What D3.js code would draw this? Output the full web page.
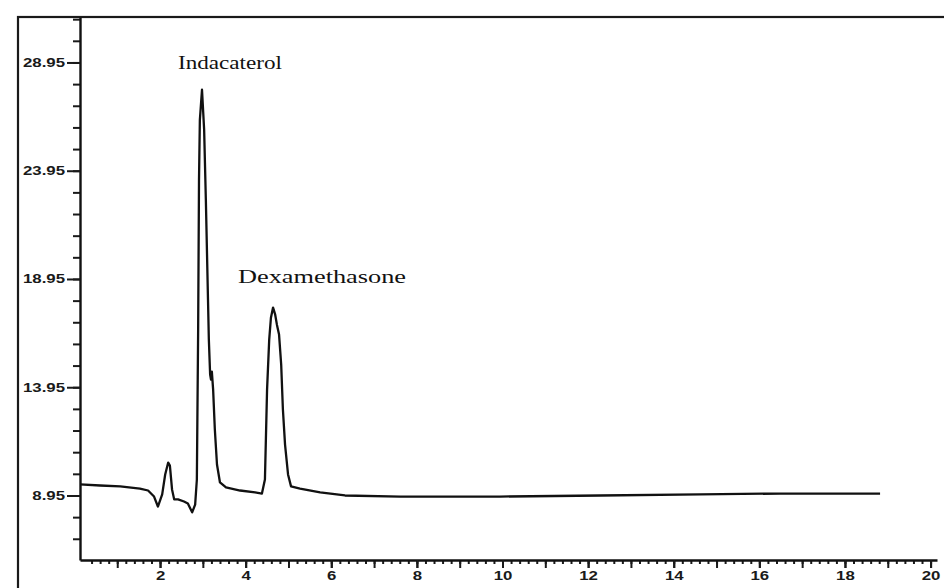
<!DOCTYPE html>
<html>
<head>
<meta charset="utf-8">
<script src="https://cdn.jsdelivr.net/npm/d3@7"></script>
<style>
  body { margin: 0; background: #fff; }
  svg { display: block; }
  .tick text { font-family: "Liberation Sans", Arial, sans-serif; font-weight: bold; font-size: 12px; fill: #1a1a1a; }
  .peakLabel { font-family: "Liberation Serif", "Times New Roman", serif; font-size: 19px; fill: #111; }
</style>
</head>
<body>
<div id="chart"></div>
<script>
// retention time (min) and detector response
var rtime = [0.13, 0.60, 1.07, 1.53, 1.72, 1.86, 1.95, 2.05, 2.12, 2.19, 2.23, 2.28, 2.33, 2.42, 2.56, 2.65,
  2.75, 2.82, 2.86, 2.89, 2.91, 2.93, 2.98, 3.03, 3.07, 3.12, 3.14, 3.17, 3.19, 3.21, 3.24, 3.28, 3.33,
  3.40, 3.54, 3.87, 4.22, 4.38, 4.45, 4.50, 4.55, 4.59, 4.64, 4.69, 4.73, 4.78, 4.83, 4.87, 4.92, 4.99,
  5.06, 5.27, 5.74, 6.32, 7.61, 9.94, 12.28, 14.62, 16.49, 18.82];
var response = [9.46, 9.41, 9.37, 9.27, 9.18, 8.90, 8.44, 9.00, 9.92, 10.47, 10.33, 9.23, 8.77, 8.77, 8.67, 8.58,
  8.17, 8.53, 9.69, 16.61, 23.53, 26.30, 27.69, 25.84, 22.61, 18.00, 16.15, 14.53, 14.30, 14.67, 13.84, 12.00, 10.38,
  9.55, 9.32, 9.18, 9.09, 9.04, 9.69, 13.84, 16.15, 17.16, 17.63, 17.30, 16.84, 16.38, 14.99, 12.92, 11.30, 9.92,
  9.37, 9.27, 9.09, 8.95, 8.90, 8.90, 8.95, 9.00, 9.04, 9.04];

var peakNames = ["Indacaterol", "Dexamethasone"];

var xTickLabels = [2, 4, 6, 8, 10, 12, 14, 16, 18, 20];
var yTickLabels = [8.95, 13.95, 18.95, 23.95, 28.95];

var width = 944, height = 588;

var svg = d3.select("#chart").append("svg")
  .attr("width", width)
  .attr("height", height);

// outer frame
svg.append("rect")
  .attr("x", 18).attr("y", 17)
  .attr("width", 940).attr("height", 590)
  .attr("fill", "none").attr("stroke", "#1a1a1a").attr("stroke-width", 2.2);

var x = d3.scaleLinear().domain([0.13, 20.15]).range([80, 937]);
var y = d3.scaleLinear().domain([5.97, 31.05]).range([560, 17]);

// minor ticks first, labelled axes on top
var xMinor = d3.range(2, 101).map(function(i) { return i / 5; });
var xUnit = d3.range(1, 21);
var yMinor = d3.range(7, 32).map(function(i) { return i - 0.05; });

svg.append("g")
  .attr("transform", "translate(0,560)")
  .call(d3.axisBottom(x).tickValues(xMinor).tickSize(4).tickFormat(""))
  .call(function(g) { g.select(".domain").remove(); });

svg.append("g")
  .attr("transform", "translate(0,560)")
  .call(d3.axisBottom(x).tickValues(xUnit).tickSize(8).tickFormat(""))
  .call(function(g) { g.select(".domain").remove(); });

var xAxis = svg.append("g")
  .attr("transform", "translate(0,560)")
  .call(d3.axisBottom(x).tickValues(xTickLabels).tickSize(8).tickSizeOuter(0).tickPadding(3));

svg.append("g")
  .attr("transform", "translate(80,0)")
  .call(d3.axisLeft(y).tickValues(yMinor).tickSize(7).tickFormat(""))
  .call(function(g) { g.select(".domain").remove(); });

var yAxis = svg.append("g")
  .attr("transform", "translate(80,0)")
  .call(d3.axisLeft(y).tickValues(yTickLabels).tickSize(13).tickSizeOuter(0).tickPadding(2)
    .tickFormat(d3.format(".2f")));

svg.selectAll(".tick line").attr("stroke", "#1a1a1a").attr("stroke-width", 2);
svg.selectAll(".domain").attr("stroke", "#111").attr("stroke-width", 2.4);

// the scanned labels are wide, stretch the glyphs
svg.selectAll(".tick text")
  .attr("lengthAdjust", "spacingAndGlyphs")
  .attr("textLength", function() { return this.getComputedTextLength() * 1.4; });

// trace
var pts = rtime.map(function(t, i) { return [t, response[i]]; });
var line = d3.line()
  .x(function(d) { return x(d[0]); })
  .y(function(d) { return y(d[1]); });

svg.append("path")
  .datum(pts)
  .attr("d", line)
  .attr("fill", "none")
  .attr("stroke", "#111")
  .attr("stroke-width", 2.3)
  .attr("stroke-linejoin", "round");

// peak labels
var labelPos = [[230, 69, 104], [322, 283, 168]];
peakNames.forEach(function(name, i) {
  svg.append("text")
    .attr("class", "peakLabel")
    .attr("x", labelPos[i][0])
    .attr("y", labelPos[i][1])
    .attr("text-anchor", "middle")
    .attr("textLength", labelPos[i][2])
    .attr("lengthAdjust", "spacingAndGlyphs")
    .text(name);
});
</script>
</body>
</html>
